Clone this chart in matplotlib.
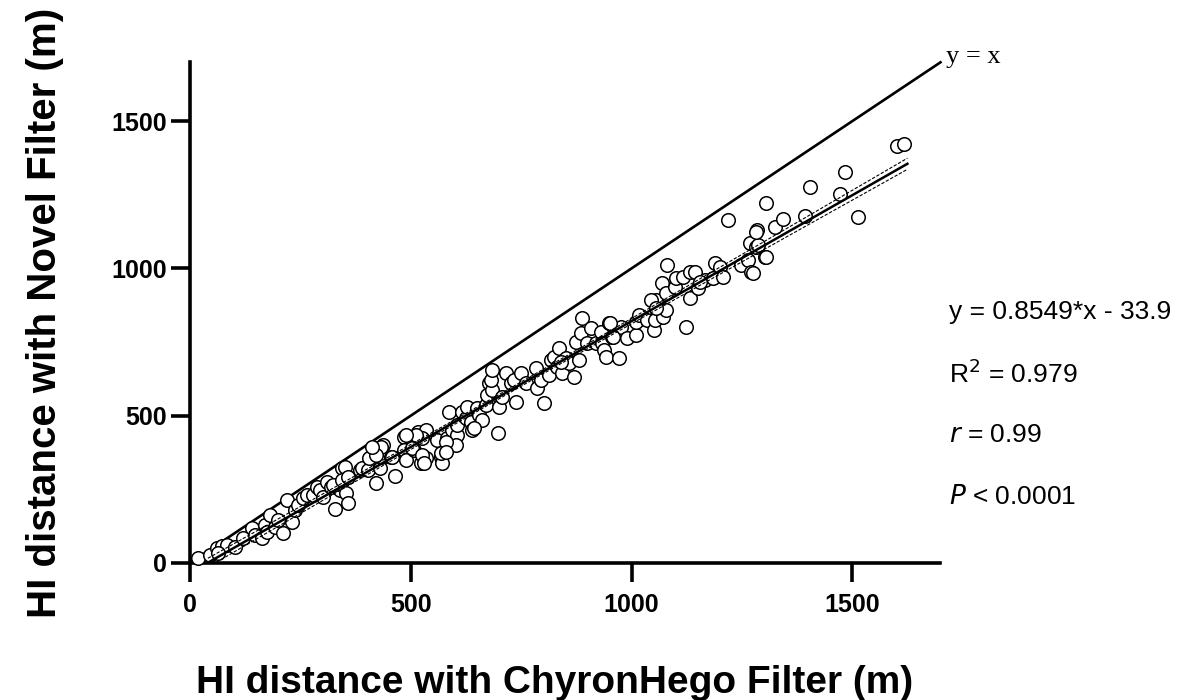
import numpy as np
import matplotlib.pyplot as plt

plt.rcParams['font.family'] = ['Liberation Sans', 'DejaVu Sans']

# HI distance readings (m): ChyronHego filter (x) vs novel filter (y)
chyron = [18, 45, 61, 72, 84, 63, 102, 120, 140, 147, 162, 169, 174, 181, 192, 199, 210, 219, 230, 237,
          244, 255, 264, 278, 287, 293, 300, 309, 320, 327, 343, 339,
          323, 350, 345, 357, 354, 357, 384, 390, 402, 406, 418, 422, 429, 436, 433, 456, 465, 485,
          485, 490, 501, 508, 515, 524, 535, 535, 560, 569, 571, 582, 587, 594, 605, 603, 605, 616,
          625, 627, 636, 639, 650, 655, 661, 670, 677, 673,
          643, 684, 682, 684, 700, 697, 706, 715, 727, 734, 738, 749, 761, 783, 785, 794, 801, 813,
          817, 824, 831, 835, 842, 851, 858, 869, 873, 880, 885, 887, 898, 907, 919, 930, 932, 937,
          941, 948, 955, 971, 975, 989,
          952, 959, 1009, 1011, 1016, 1034, 1050, 1054, 1056, 1068, 1072, 1079, 1079, 1081, 1099, 1101,
          1117, 1124, 1133, 1133, 1144, 1151, 1167, 1185, 1189, 1201, 1208, 1248, 1264, 1271, 1268,
          1282, 1302,
          1305, 1404, 1483, 1602, 1618, 1284, 1287, 1325, 1343, 1393, 1472, 1512, 1305, 1275,
          840, 580, 569, 580, 526, 512, 490, 503, 526, 530, 458, 433, 422, 411,
          1043, 1056, 1156, 1219, 1282]
novel = [17, 27, 51, 58, 61, 34, 54, 85, 119, 95, 85, 129, 105, 163, 122, 146, 102, 214, 139, 180,
         197, 221, 231, 231, 258, 248, 224, 275, 258, 183, 322, 248,
         265, 326, 282, 292, 238, 204, 316, 322, 316, 356, 384, 272, 322, 400, 360, 360, 295, 428,
         384, 350, 424, 384, 445, 339, 451, 356, 417, 360, 339, 424, 512, 451, 434, 400, 468, 512,
         492, 529, 479, 451, 526, 502, 485, 536, 611, 570,
         458, 587, 621, 655, 529, 441, 563, 645, 611, 621, 546, 645, 611, 662, 594, 621, 543, 638,
         689, 699, 665, 730, 645, 696, 679, 631, 750, 689, 781, 832, 747, 798, 747, 784, 747, 723,
         699, 815, 767, 696, 801, 764,
         815, 767, 774, 818, 842, 825, 791, 825, 893, 950, 835, 916, 859, 1011, 937, 967,
         971, 801, 988, 899, 988, 933, 961, 967, 1018, 1005, 971, 1011, 1028, 988, 1086,
         1072, 1039,
         1222, 1276, 1327, 1415, 1422, 1130, 1079, 1140, 1168, 1178, 1252, 1174, 1039, 984,
         682, 411, 373, 377, 424, 434, 434, 390, 367, 339, 360, 394, 367, 394,
         893, 866, 954, 1164, 1123]

slope = 0.8549
intercept = -33.9
ticks = [0, 500, 1000, 1500]
fit_text = ["y = 0.8549*x - 33.9", "R$^2$ = 0.979", "$r$ = 0.99", "$P$ < 0.0001"]

x = np.array(chyron, dtype=float)
y = np.array(novel, dtype=float)

fig = plt.figure(figsize=(11.89, 7), dpi=100)
ax = fig.add_axes([0.160, 0.196, 0.631, 0.715])

# identity line
ax.plot([0, 1700], [0, 1700], color='black', lw=1.9, clip_on=False, zorder=2)
ax.text(1712, 1718, "y = x", family='Liberation Serif', fontsize=19, va='center', ha='left')

ax.scatter(x, y, s=95, facecolor='white', edgecolor='black', linewidth=1.1, zorder=3, clip_on=False)

# regression line with 95% band
xf = np.linspace(40, 1625, 200)
yf = slope * xf + intercept
resid = y - (slope * x + intercept)
s = np.sqrt(np.sum(resid ** 2) / (len(x) - 2))
se = s * np.sqrt(1 / len(x) + (xf - x.mean()) ** 2 / np.sum((x - x.mean()) ** 2))
ax.plot(xf, yf, color='black', lw=1.8, zorder=4)
ax.plot(xf, yf + 1.97 * se, color='black', lw=0.8, ls=(0, (3, 1.5)), zorder=4)
ax.plot(xf, yf - 1.97 * se, color='black', lw=0.8, ls=(0, (3, 1.5)), zorder=4)

ax.set_xlim(0, 1700)
ax.set_ylim(0, 1700)
ax.set_xticks(ticks)
ax.set_yticks(ticks)
for side in ['top', 'right']:
    ax.spines[side].set_visible(False)
for side in ['left', 'bottom']:
    ax.spines[side].set_linewidth(2.6)
ax.tick_params(width=2.6, length=14, labelsize=18)
ax.tick_params(axis='x', pad=8)
ax.tick_params(axis='y', pad=3)
for lab in ax.get_xticklabels() + ax.get_yticklabels():
    lab.set_fontweight('bold')

ax.set_xlabel("HI distance with ChyronHego Filter (m)", fontsize=28, fontweight='bold', labelpad=34)
ax.xaxis.label.set_x(0.485)
ax.set_ylabel("HI distance with Novel Filter (m)", fontsize=29, fontweight='bold', labelpad=34)

for i, t in enumerate(fit_text):
    fig.text(0.798, 0.554 - i * 0.088, t, fontsize=19, va='center', ha='left')

fig.savefig('out.png', dpi=100)
